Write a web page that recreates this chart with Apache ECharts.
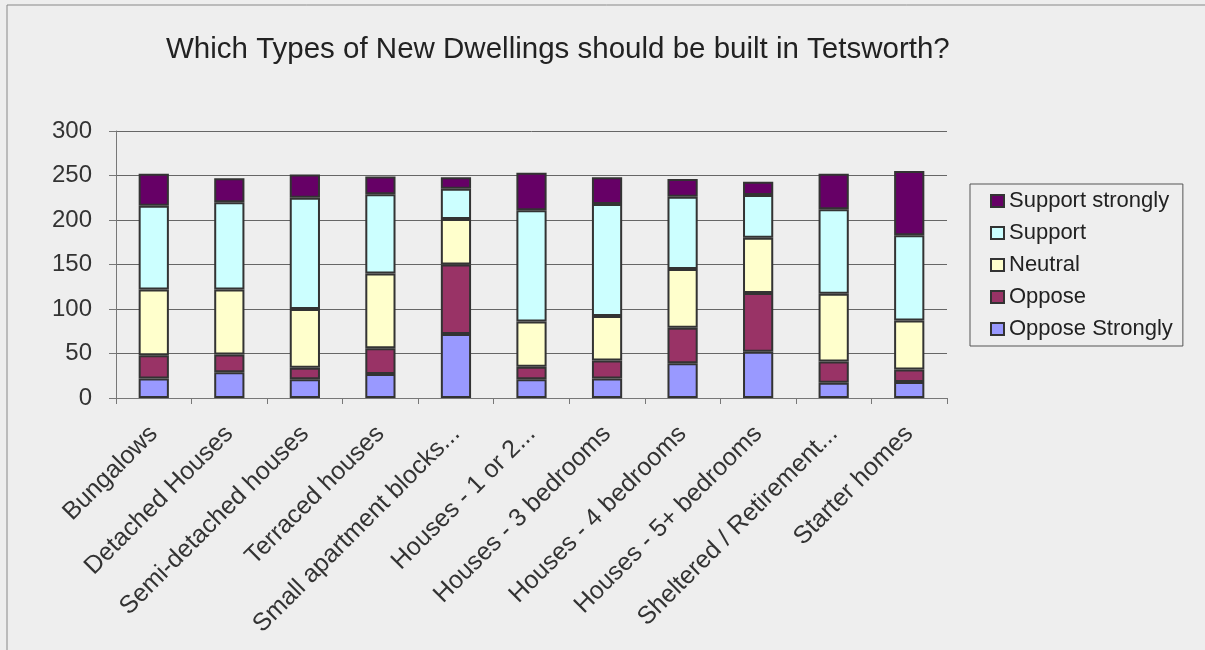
<!DOCTYPE html>
<html>
<head>
<meta charset="utf-8">
<script src="https://cdn.jsdelivr.net/npm/echarts@6/dist/echarts.min.js"></script>
<style>
  html, body { margin: 0; padding: 0; background: #eeeeee; }
  #chart { width: 1205px; height: 650px; }
</style>
</head>
<body>
<div id="chart"></div>
<script>
  // categories along the x axis
  var categories = [
    'Bungalows', 'Detached Houses', 'Semi-detached houses', 'Terraced houses',
    'Small apartment blocks...', 'Houses - 1 or 2...', 'Houses - 3 bedrooms',
    'Houses - 4 bedrooms', 'Houses - 5+ bedrooms', 'Sheltered / Retirement...', 'Starter homes'
  ]
  // responses per category
  var opposeStrongly  = [22, 29, 21, 27, 72, 21, 22, 39, 52, 17, 18]
  var oppose          = [26, 20, 13, 29, 78, 14, 20, 40, 66, 24, 14]
  var neutral         = [74, 73, 66, 84, 51, 51, 50, 66, 62, 76, 55]
  var support         = [94, 98, 125, 89, 34, 125, 126, 81, 48, 95, 96]
  var supportStrongly = [36, 27, 26, 20, 13, 42, 30, 20, 15, 40, 72]

  var yTicks = [0, 50, 100, 150, 200, 250, 300]

  var font = '"Liberation Sans", Arial, sans-serif'

  function bar(name, data, color) {
    return {
      name: name,
      type: 'bar',
      stack: 'total',
      barWidth: '40%',
      data: data,
      itemStyle: { color: color, borderColor: '#333333', borderWidth: 2 }
    }
  }

  var myChart = echarts.init(document.getElementById('chart'))
  myChart.setOption({
    backgroundColor: '#eeeeee',
    animation: false,
    textStyle: { fontFamily: font },
    title: {
      text: 'Which Types of New Dwellings should be built in Tetsworth?',
      left: 161,
      top: 30,
      textStyle: { color: '#222222', fontSize: 29.5, fontWeight: 'normal', fontFamily: font }
    },
    graphic: [{
      type: 'rect',
      silent: true,
      shape: { x: 7, y: 5, width: 1400, height: 1000 },
      style: { fill: 'none', stroke: '#888888', lineWidth: 1 }
    }],
    legend: {
      orient: 'vertical',
      left: 970,
      top: 184,
      padding: [6, 10, 6, 20],
      borderColor: '#555555',
      borderWidth: 1,
      itemWidth: 13,
      itemHeight: 12,
      itemGap: 10,
      itemTextGap: 3,
      icon: 'rect',
      textStyle: { color: '#222222', fontSize: 22, fontFamily: font },
      data: ['Support strongly', 'Support', 'Neutral', 'Oppose', 'Oppose Strongly']
    },
    grid: { left: 116, right: 258, top: 131, bottom: 252 },
    xAxis: {
      type: 'category',
      data: categories,
      axisLine: { lineStyle: { color: '#777777' } },
      axisTick: { show: true, length: 6, lineStyle: { color: '#777777' } },
      axisLabel: {
        rotate: 45,
        interval: 0,
        margin: 32,
        color: '#333333',
        fontSize: 25,
        fontFamily: font
      }
    },
    yAxis: {
      type: 'value',
      min: yTicks[0],
      max: yTicks[yTicks.length - 1],
      interval: 50,
      axisLine: { show: true, lineStyle: { color: '#777777' } },
      axisTick: { show: true, length: 7, lineStyle: { color: '#777777' } },
      splitLine: { lineStyle: { color: '#666666', width: 1 } },
      axisLabel: { color: '#333333', fontSize: 24, margin: 24, fontFamily: font }
    },
    series: [
      bar('Oppose Strongly', opposeStrongly, '#9999ff'),
      bar('Oppose', oppose, '#993366'),
      bar('Neutral', neutral, '#ffffcc'),
      bar('Support', support, '#ccffff'),
      bar('Support strongly', supportStrongly, '#660066')
    ]
  })
</script>
</body>
</html>
